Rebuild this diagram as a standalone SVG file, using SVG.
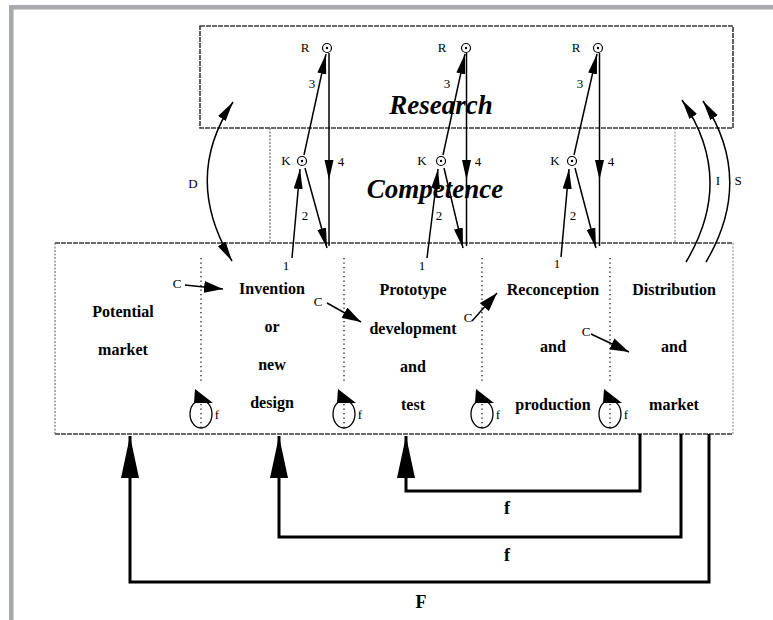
<svg xmlns="http://www.w3.org/2000/svg" width="773" height="620" viewBox="0 0 773 620">
<style>
.box{fill:none;stroke:#3a3a3a;stroke-width:1.6;stroke-dasharray:5 1}
.lbox{fill:none;stroke:#9a9a9a;stroke-width:1.2;stroke-dasharray:2 1.5}
.sep{stroke:#222;stroke-width:1.4;stroke-dasharray:1.3 3.2}
.ln{stroke:#000;stroke-width:1.5;fill:none}
.fb{stroke:#000;stroke-width:3;fill:none}
.sm{font-family:"Liberation Serif","Times New Roman",serif;font-size:13px;fill:#000;text-anchor:middle}
.st{font-family:"Liberation Serif","Times New Roman",serif;font-size:16px;font-weight:bold;fill:#000;text-anchor:middle}
.big{font-family:"Liberation Serif","Times New Roman",serif;font-size:27px;font-weight:bold;font-style:italic;fill:#000;text-anchor:middle}
.fl{font-family:"Liberation Serif","Times New Roman",serif;font-size:18px;font-weight:bold;fill:#000;text-anchor:middle}
.nd{fill:#fff;stroke:#000;stroke-width:1.2}
</style>
<defs>
<marker id="a" viewBox="-20 -5 20 10" refX="0" refY="0" markerWidth="20" markerHeight="10" markerUnits="userSpaceOnUse" orient="auto-start-reverse"><path d="M0,0 L-20,-4.5 L-20,4.5Z" fill="#000"/></marker>
<marker id="c" viewBox="-19 -6 19 12" refX="0" refY="0" markerWidth="19" markerHeight="12" markerUnits="userSpaceOnUse" orient="auto"><path d="M0,0 L-19,-6 L-19,6Z" fill="#000"/></marker>
<marker id="b" viewBox="-42 -9 42 18" refX="0" refY="0" markerWidth="42" markerHeight="18" markerUnits="userSpaceOnUse" orient="auto"><path d="M0,0 L-42,-9 L-42,9Z" fill="#000"/></marker>
</defs>
<rect width="773" height="620" fill="#fff"/>
<rect x="11.3" y="7.3" width="800" height="700" fill="none" stroke="#a7a8ac" stroke-width="4.5"/>

<g id="research">
<rect class="box" x="200" y="26" width="533" height="102"/>
<text class="big" x="441" y="114">Research</text>
</g>
<g id="competence">
<line class="lbox" x1="270" y1="128" x2="270" y2="243" style="stroke:#666"/>
<line class="lbox" x1="675" y1="128" x2="675" y2="243"/>
<text class="big" x="435" y="198">Competence</text>
</g>
<g id="main">
<line class="box" x1="55" y1="243" x2="733" y2="243"/>
<line class="box" x1="55" y1="434" x2="733" y2="434"/>
<line class="lbox" x1="55" y1="243" x2="55" y2="434" style="stroke:#777"/>
<line class="lbox" x1="733" y1="243" x2="733" y2="434"/>
</g>

<g id="stage-potential-market">
<text class="st" x="123" y="317">Potential</text>
<text class="st" x="123" y="355">market</text>
</g>
<g id="stage-invention">
<text class="st" x="272" y="294">Invention</text>
<text class="st" x="272" y="332">or</text>
<text class="st" x="272" y="370">new</text>
<text class="st" x="272" y="408">design</text>
</g>
<g id="stage-prototype">
<text class="st" x="413" y="295">Prototype</text>
<text class="st" x="413" y="334">development</text>
<text class="st" x="413" y="372">and</text>
<text class="st" x="413" y="410">test</text>
</g>
<g id="stage-reconception">
<text class="st" x="553" y="295">Reconception</text>
<text class="st" x="553" y="352">and</text>
<text class="st" x="553" y="410">production</text>
</g>
<g id="stage-distribution">
<text class="st" x="674" y="295">Distribution</text>
<text class="st" x="674" y="352">and</text>
<text class="st" x="674" y="410">market</text>
</g>

<g id="separators">
<line class="sep" x1="201" y1="258" x2="201" y2="382"/>
<line class="sep" x1="344" y1="258" x2="344" y2="382"/>
<line class="sep" x1="482" y1="258" x2="482" y2="382"/>
<line class="sep" x1="610" y1="258" x2="610" y2="382"/>
</g>

<g id="nodes-RK">
<circle class="nd" cx="327" cy="48" r="4.5"/><circle cx="327" cy="48" r="1.2"/>
<text class="sm" x="305" y="52">R</text>
<circle class="nd" cx="302" cy="161" r="4.5"/><circle cx="302" cy="161" r="1.2"/>
<text class="sm" x="286" y="165">K</text>
<circle class="nd" cx="466" cy="48" r="4.5"/><circle cx="466" cy="48" r="1.2"/>
<text class="sm" x="442" y="52">R</text>
<circle class="nd" cx="441" cy="161" r="4.5"/><circle cx="441" cy="161" r="1.2"/>
<text class="sm" x="422" y="165">K</text>
<circle class="nd" cx="598" cy="48" r="4.5"/><circle cx="598" cy="48" r="1.2"/>
<text class="sm" x="576" y="52">R</text>
<circle class="nd" cx="572" cy="161" r="4.5"/><circle cx="572" cy="161" r="1.2"/>
<text class="sm" x="555" y="165">K</text>
</g>

<g id="connectors">
<line class="ln" x1="304" y1="155" x2="326" y2="54" marker-end="url(#a)"/>
<line class="ln" x1="329" y1="53" x2="329" y2="180" marker-end="url(#a)"/>
<line class="ln" x1="329" y1="180" x2="329" y2="246"/>
<line class="ln" x1="305" y1="168" x2="327" y2="248" marker-end="url(#a)"/>
<line class="ln" x1="292" y1="258" x2="300" y2="169" marker-end="url(#a)"/>
<text class="sm" x="312" y="88">3</text><text class="sm" x="341" y="166">4</text>
<text class="sm" x="305" y="220">2</text><text class="sm" x="286" y="270">1</text>
<line class="ln" x1="443" y1="155" x2="465" y2="54" marker-end="url(#a)"/>
<line class="ln" x1="466.5" y1="53" x2="466.5" y2="180" marker-end="url(#a)"/>
<line class="ln" x1="466.5" y1="180" x2="466.5" y2="246"/>
<line class="ln" x1="444" y1="168" x2="463" y2="248" marker-end="url(#a)"/>
<line class="ln" x1="427" y1="258" x2="438" y2="169" marker-end="url(#a)"/>
<text class="sm" x="447" y="88">3</text><text class="sm" x="478" y="166">4</text>
<text class="sm" x="439" y="220">2</text><text class="sm" x="422" y="270">1</text>
<line class="ln" x1="574" y1="155" x2="597" y2="54" marker-end="url(#a)"/>
<line class="ln" x1="599.5" y1="53" x2="599.5" y2="180" marker-end="url(#a)"/>
<line class="ln" x1="599.5" y1="180" x2="599.5" y2="246"/>
<line class="ln" x1="575" y1="168" x2="596" y2="248" marker-end="url(#a)"/>
<line class="ln" x1="561" y1="257" x2="569" y2="169" marker-end="url(#a)"/>
<text class="sm" x="580" y="88">3</text><text class="sm" x="611" y="166">4</text>
<text class="sm" x="573" y="220">2</text><text class="sm" x="557" y="268">1</text>

<path class="ln" d="M232,261 Q182,178 233,102" marker-start="url(#a)" marker-end="url(#a)"/>
<text class="sm" x="193" y="188">D</text>
<path class="ln" d="M686,262 Q736,179 682,100" marker-end="url(#a)"/>
<path class="ln" d="M706,262 Q755,179 703,101" marker-end="url(#a)"/>
<text class="sm" x="718" y="185">I</text>
<text class="sm" x="738" y="185">S</text>

<text class="sm" x="177" y="288">C</text>
<line class="ln" x1="185" y1="285" x2="223" y2="289" marker-end="url(#c)"/>
<text class="sm" x="318" y="306">C</text>
<line class="ln" x1="327" y1="303" x2="361" y2="322" marker-end="url(#c)"/>
<text class="sm" x="468" y="322">C</text>
<line class="ln" x1="472" y1="321" x2="497" y2="293" marker-end="url(#c)"/>
<text class="sm" x="586" y="336">C</text>
<line class="ln" x1="591" y1="334" x2="629" y2="352" marker-end="url(#c)"/>

<g id="loops">
<ellipse class="ln" cx="201" cy="414" rx="11" ry="14" style="stroke-width:1.3"/>
<line class="sep" x1="201" y1="404" x2="201" y2="430"/>
<polygon points="195,389 213,403 194,403"/>
<text class="sm" x="217" y="419">f</text>
<ellipse class="ln" cx="344" cy="414" rx="11" ry="14" style="stroke-width:1.3"/>
<line class="sep" x1="344" y1="404" x2="344" y2="430"/>
<polygon points="338,389 356,403 337,403"/>
<text class="sm" x="360" y="419">f</text>
<ellipse class="ln" cx="482" cy="414" rx="11" ry="14" style="stroke-width:1.3"/>
<line class="sep" x1="482" y1="404" x2="482" y2="430"/>
<polygon points="476,389 494,403 475,403"/>
<text class="sm" x="498" y="419">f</text>
<ellipse class="ln" cx="610" cy="414" rx="11" ry="14" style="stroke-width:1.3"/>
<line class="sep" x1="610" y1="404" x2="610" y2="430"/>
<polygon points="604,389 622,403 603,403"/>
<text class="sm" x="626" y="419">f</text>
</g>

<path class="fb" d="M640,434 V491 H406 V436" marker-end="url(#b)"/>
<path class="fb" d="M681,434 V537 H279 V436" marker-end="url(#b)"/>
<path class="fb" d="M709,434 V582 H130 V436" marker-end="url(#b)"/>
<text class="fl" x="507" y="514">f</text>
<text class="fl" x="507" y="561">f</text>
<text class="fl" x="421" y="608">F</text>
</g>
</svg>
